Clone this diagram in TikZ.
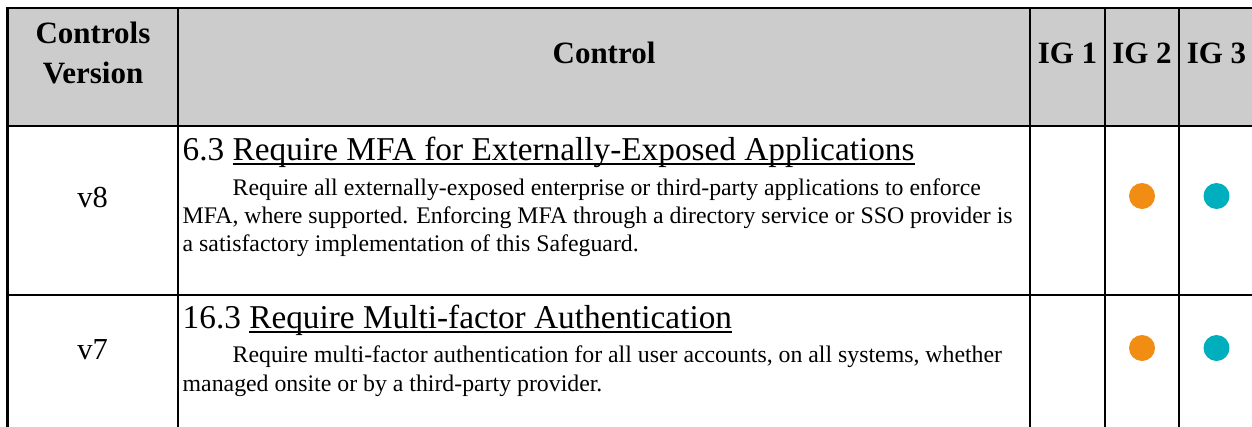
\documentclass[tikz,border=0pt]{standalone}
\usepackage{fontspec}
\setmainfont{Liberation Serif}
\definecolor{hdrgray}{RGB}{204,204,204}
\definecolor{igorange}{RGB}{241,141,18}
\definecolor{igteal}{RGB}{0,175,190}
\newlength\ulw
\newcommand\ulx[1]{\settowidth\ulw{#1}\rlap{\rule[-4.5pt]{\ulw}{1.5pt}}#1}
\tikzset{
  tabline/.style={line width=2.7pt, black},
  hdrtext/.style={font=\fontsize{31}{36}\selectfont\bfseries, inner sep=0pt, anchor=base},
  vertext/.style={font=\fontsize{30.5}{36}\selectfont, inner sep=0pt, anchor=base},
  titletext/.style={font=\fontsize{33.3}{40}\selectfont, inner sep=0pt, anchor=base west},
  bodytext/.style={font=\fontsize{23.8}{28}\selectfont, inner sep=0pt, anchor=base west},
  igdot/.style={circle, inner sep=0pt, minimum size=26pt}
}
\begin{document}
\begin{tikzpicture}[x=1pt,y=-1pt]
\useasboundingbox (0,0) rectangle (1252,426);
\clip (0,0) rectangle (1252,426);
\fill[hdrgray] (7.5,8) rectangle (1260,126);
% table rules
\draw[tabline] (1260,8) -- (7.5,8) -- (7.5,432);
\draw[tabline] (7.5,126) -- (1260,126);
\draw[tabline] (7.5,295) -- (1260,295);
\foreach \xx in {178,1030,1105,1179} {\draw[tabline] (\xx,8) -- (\xx,432);}
% header
\node[hdrtext] (hcv1) at (93,43) {Controls};
\node[hdrtext] (hcv2) at (93,83) {Version};
\node[hdrtext] (hctl) at (604,63) {Control};
\node[hdrtext] (hig1) at (1067.5,63) {IG 1};
\node[hdrtext] (hig2) at (1142,63) {IG 2};
\node[hdrtext] (hig3) at (1216.5,63) {IG 3};
% row 1
\node[vertext] (ver8) at (92.5,207) {v8};
\node[titletext] (tit1) at (182.5,160) {6.3 \ulx{Require MFA for Externally-Exposed Applications}};
\node[bodytext] (b1a) at (232.5,195) {Require all externally-exposed enterprise or third-party applications to enforce};
\node[bodytext] (b1b) at (182.5,223) {MFA, where supported. Enforcing MFA through a directory service or SSO provider is};
\node[bodytext] (b1c) at (182.5,251) {a satisfactory implementation of this Safeguard.};
\node[igdot, fill=igorange] (d1o) at (1142,196) {};
\node[igdot, fill=igteal] (d1t) at (1216.5,196) {};
% row 2
\node[vertext] (ver7) at (92.5,359) {v7};
\node[titletext] (tit2) at (182.5,328) {16.3 \ulx{Require Multi-factor Authentication}};
\node[bodytext] (b2a) at (232.5,362) {Require multi-factor authentication for all user accounts, on all systems, whether};
\node[bodytext] (b2b) at (182.5,391) {managed onsite or by a third-party provider.};
\node[igdot, fill=igorange] (d2o) at (1142,348) {};
\node[igdot, fill=igteal] (d2t) at (1216.5,348) {};
\end{tikzpicture}
\end{document}
